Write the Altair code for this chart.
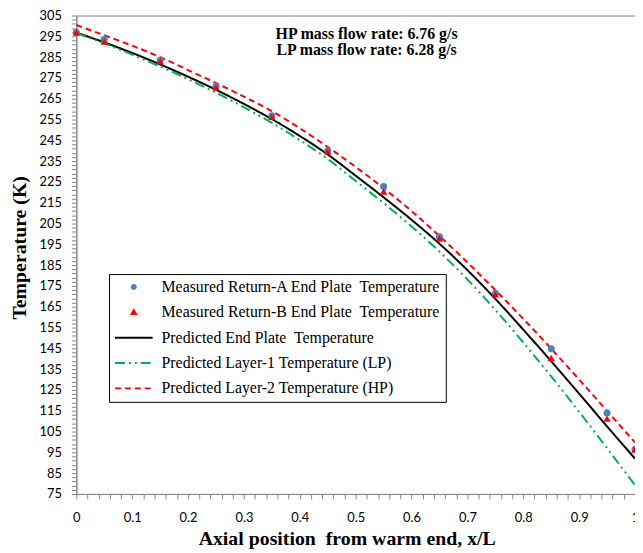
import altair as alt
import pandas as pd

# ---------------- data ----------------
NB = "\u00a0 "  # keeps the double space of the original labels visible
series_names = [
    f"Measured Return-A End Plate{NB}Temperature",
    f"Measured Return-B End Plate{NB}Temperature",
    f"Predicted End Plate{NB}Temperature",
    "Predicted Layer-1 Temperature (LP)",
    "Predicted Layer-2 Temperature (HP)",
]
series_colors = ["#4F81BD", "#FF0000", "#000000", "#00B050", "#FF0000"]
line_dashes = [[1, 0], [10, 4, 2, 4, 2, 4], [6, 4]]

x_measured = [0, 0.05, 0.15, 0.25, 0.35, 0.45, 0.55, 0.65, 0.75, 0.85, 0.95, 1.0]
t_return_a = [297.0, 293.6, 283.5, 271.0, 256.8, 240.0, 222.8, 198.7, 171.5, 144.8, 113.9, 96.5]
t_return_b = [296.8, 292.5, 283.0, 270.5, 256.3, 239.7, 220.4, 197.8, 171.0, 140.4, 111.2, 96.3]

x_predicted = [0, 0.05, 0.1, 0.15, 0.2, 0.25, 0.3, 0.35, 0.4, 0.45, 0.5,
               0.55, 0.6, 0.65, 0.7, 0.75, 0.8, 0.85, 0.9, 0.95, 1.0]
t_end_plate = [296.8, 292.1, 287.0, 281.5, 275.6, 269.3, 262.5, 255.2, 247.1, 238.2, 228.0,
               217.6, 206.8, 195.3, 182.6, 168.8, 154.0, 138.8, 123.2, 107.5, 92.0]
t_layer1_lp = [296.5, 291.6, 286.2, 280.5, 274.4, 267.9, 260.9, 253.4, 245.1, 236.0, 225.5,
               214.8, 203.6, 191.5, 178.1, 163.5, 147.8, 131.5, 114.5, 97.0, 79.2]
t_layer2_hp = [300.4, 295.5, 290.5, 285.0, 278.8, 272.5, 266.0, 259.0, 250.8, 241.8, 232.2,
               222.0, 211.0, 199.0, 186.3, 173.0, 159.2, 144.8, 130.0, 114.9, 99.8]

y_ticks = list(range(75, 306, 2))
x_ticks = [round(i * 0.02, 2) for i in range(51)]
annotation_lines = ["HP mass flow rate: 6.76 g/s", "LP mass flow rate: 6.28 g/s"]

# ---------------- tables ----------------
meas_a = pd.DataFrame({"x": x_measured, "T": t_return_a, "series": series_names[0]})
meas_b = pd.DataFrame({"x": x_measured, "T": t_return_b, "series": series_names[1]})
pred = pd.concat([
    pd.DataFrame({"x": x_predicted, "T": t_end_plate, "series": series_names[2]}),
    pd.DataFrame({"x": x_predicted, "T": t_layer1_lp, "series": series_names[3]}),
    pd.DataFrame({"x": x_predicted, "T": t_layer2_hp, "series": series_names[4]}),
], ignore_index=True)

GRAY = "#868686"

x_axis = alt.Axis(
    values=x_ticks, format="~g",
    labelExpr="abs(datum.value*10 - round(datum.value*10)) < 0.001 ? datum.label : ''",
    labelFont="Lato", labelFontSize=13, labelColor="#000000", labelPadding=13,
    labelFlush=False, labelOverlap=False,
    tickSize=5, tickColor=GRAY, domainColor=GRAY, grid=False,
    title=f"Axial position{NB}from warm end, x/L", titleFont="Liberation Serif",
    titleFontSize=20, titleFontWeight="bold", titleColor="#000000",
    titleX=273, titleY=51, titleAlign="center", titleBaseline="alphabetic",
)
y_axis = alt.Axis(
    values=y_ticks,
    labelExpr="(datum.value - 75) % 10 == 0 ? datum.label : ''",
    labelFont="Lato", labelFontSize=13, labelColor="#000000", labelPadding=10,
    labelFlush=False, labelOverlap=False,
    tickSize=5, tickColor=GRAY, domainColor=GRAY, grid=False,
    title="Temperature (K)", titleFont="Liberation Serif",
    titleFontSize=20, titleFontWeight="bold", titleColor="#000000",
    titleAngle=270, titleX=-57, titleY=234, titleAlign="center", titleBaseline="middle",
)

x_scale = alt.Scale(domain=[0, 1], nice=False)
y_scale = alt.Scale(domain=[75, 305], nice=False, zero=False)
color_scale = alt.Scale(domain=series_names, range=series_colors)

# legend glyphs (unit-square paths; symbolSize 196 -> 7 px per unit)
circle_path = ("M-0.286,0A0.286,0.286 0 1,0 0.286,0A0.286,0.286 0 1,0 -0.286,0Z"
               "M-0.114,0A0.114,0.114 0 1,0 0.114,0A0.114,0.114 0 1,0 -0.114,0Z")
tri_path = "M0,-0.3L0.33,0.26L-0.33,0.26ZM0,-0.07L0.1,0.12L-0.1,0.12Z"
line_path = "M-2.714,0L2.714,0"

legend = alt.Legend(
    title=None, orient="none", legendX=33, legendY=261,
    fillColor="white", strokeColor="#000000", padding=5,
    labelFont="Liberation Serif", labelFontSize=16, labelColor="#000000",
    labelLimit=500, rowPadding=9.6, symbolSize=196, symbolStrokeWidth=2,
    symbolOffset=12, labelOffset=20, symbolOpacity=1,
    symbolType={"expr": f"datum.index == 0 ? '{circle_path}' : datum.index == 1 ? '{tri_path}' : '{line_path}'"},
    symbolDash={"expr": "datum.index == 3 ? [10,4,2,4,2,4] : datum.index == 4 ? [6,4] : [1,0]"},
)

color_enc = alt.Color("series:N", scale=color_scale, legend=legend)

lines = alt.Chart(pred).mark_line(strokeWidth=2, interpolate="monotone").encode(
    x=alt.X("x:Q", scale=x_scale, axis=x_axis),
    y=alt.Y("T:Q", scale=y_scale, axis=y_axis),
    color=color_enc,
    strokeDash=alt.StrokeDash("series:N", scale=alt.Scale(domain=series_names[2:], range=line_dashes), legend=None),
)

pts_a = alt.Chart(meas_a).mark_point(shape="circle", filled=True, size=50, opacity=1).encode(
    x=alt.X("x:Q", scale=x_scale, axis=x_axis),
    y=alt.Y("T:Q", scale=y_scale, axis=y_axis),
    color=color_enc,
)
pts_b = alt.Chart(meas_b).mark_point(shape="triangle-up", filled=True, size=55, opacity=1).encode(
    x=alt.X("x:Q", scale=x_scale, axis=x_axis),
    y=alt.Y("T:Q", scale=y_scale, axis=y_axis),
    color=color_enc,
)

note = alt.Chart(alt.Data(values=[{}])).mark_text(
    font="Liberation Serif", fontSize=16, fontWeight="bold", color="#000000",
    align="center", baseline="middle", lineHeight=16,
).encode(x=alt.value(293), y=alt.value(19), text=alt.value(annotation_lines))

chart = alt.layer(lines, pts_a, pts_b, note).properties(
    width=564, height=483,
    autosize=alt.AutoSizeParams(type="none"),
    padding={"left": 69, "top": 5, "right": 0, "bottom": 57},
).configure_view(stroke=GRAY, strokeWidth=1)

chart.save("out.html", embed_options={"renderer": "svg", "actions": False})
